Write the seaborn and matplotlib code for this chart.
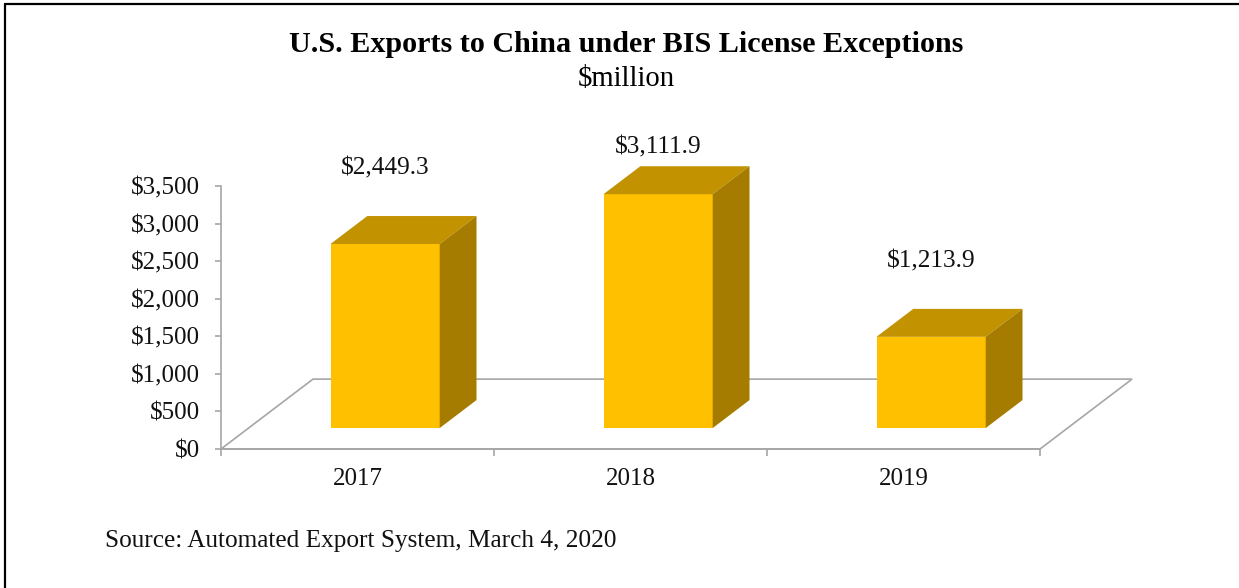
import matplotlib
matplotlib.use("Agg")
import matplotlib.pyplot as plt
import seaborn as sns
from matplotlib.lines import Line2D
from matplotlib.patches import Polygon
from matplotlib.ticker import FixedLocator, FuncFormatter

# data
YEARS = ["2017", "2018", "2019"]
EXPORTS = [2449.3, 3111.9, 1213.9]
LABELS = ["$2,449.3", "$3,111.9", "$1,213.9"]

FRONT = "#FFC000"
TOP = "#C29200"
SIDE = "#A57C00"
GRID = "#A6A6A6"

# depth of the 3d floor in data units (x: categories, y: dollars)
DX, DY = 0.337, 930.0
BAR_FRONT, BAR_BACK = 0.3, 0.7

sns.set_theme(style="white")
plt.rcParams["font.family"] = ["Liberation Serif", "DejaVu Serif"]

fig = plt.figure(figsize=(12.39, 5.88), dpi=100)
ax = fig.add_axes([0.17837, 0.23639, 0.66102, 0.44728])

sns.barplot(x=YEARS, y=EXPORTS, width=0.4, color=FRONT, saturation=1,
            linewidth=0, ax=ax, zorder=3)

ax.set_xlim(-0.5, 2.5)
ax.set_ylim(0, 3500)

# floor of the 3d plot
floor = Polygon([(-0.5, 0), (2.5, 0), (2.5 + DX, DY), (-0.5 + DX, DY)],
                closed=True, fill=False, edgecolor=GRID, linewidth=1.2,
                clip_on=False, zorder=1)
ax.add_patch(floor)

# extrude bars into boxes
ddx = (BAR_BACK - BAR_FRONT) * DX
ddy = (BAR_BACK - BAR_FRONT) * DY
for patch, lab in zip(ax.patches[:3], LABELS):
    x0 = patch.get_x() + BAR_FRONT * DX
    y0 = BAR_FRONT * DY
    w = patch.get_width()
    h = patch.get_height()
    patch.set_x(x0)
    patch.set_y(y0)
    patch.set_clip_on(False)
    top = Polygon([(x0, y0 + h), (x0 + w, y0 + h), (x0 + w + ddx, y0 + h + ddy),
                   (x0 + ddx, y0 + h + ddy)], closed=True, facecolor=TOP,
                  edgecolor="none", clip_on=False, zorder=3)
    side = Polygon([(x0 + w, y0), (x0 + w + ddx, y0 + ddy), (x0 + w + ddx, y0 + h + ddy),
                    (x0 + w, y0 + h)], closed=True, facecolor=SIDE,
                   edgecolor="none", clip_on=False, zorder=3)
    ax.add_patch(top)
    ax.add_patch(side)
    ax.text(x0 + w / 2, min(h + 1280, 4010), lab, ha="center", va="center",
            fontsize=18.3, color="#111111", clip_on=False)

# axes styling
for s in ["top", "right"]:
    ax.spines[s].set_visible(False)
ax.spines["left"].set_color(GRID)
ax.spines["bottom"].set_color(GRID)
ax.spines["left"].set_linewidth(1.2)
ax.spines["bottom"].set_linewidth(1.2)

ax.set_yticks(range(0, 3501, 500))
ax.yaxis.set_major_formatter(FuncFormatter(lambda v, _: f"${v:,.0f}"))
ax.tick_params(axis="y", which="major", left=True, length=4, width=1.2,
               color=GRID, pad=11, labelsize=18, labelcolor="#111111")
ax.xaxis.set_minor_locator(FixedLocator([-0.5, 0.5, 1.5, 2.5]))
ax.tick_params(axis="x", which="minor", bottom=True, length=5, width=1.2, color=GRID)
ax.tick_params(axis="x", which="major", bottom=False, length=0, pad=14,
               labelsize=18, labelcolor="#111111")
ax.set_xlabel("")
ax.set_ylabel("")
ax.grid(False)
ax.patch.set_alpha(0)

fig.text(0.5052, 0.9235, "U.S. Exports to China under BIS License Exceptions",
         ha="center", va="center", fontsize=21.7, fontweight="bold", color="black")
fig.text(0.5052, 0.866, "$million", ha="center", va="center", fontsize=20.6, color="black")
fig.text(0.0847, 0.0799, "Source: Automated Export System, March 4, 2020",
         ha="left", va="center", fontsize=18.2, color="#111111")

# frame lines at top and left
fig.add_artist(Line2D([5 / 1239, 1], [1 - 4 / 588, 1 - 4 / 588], color="black", linewidth=1.6))
fig.add_artist(Line2D([5 / 1239, 5 / 1239], [0, 1 - 4 / 588], color="black", linewidth=1.6))

fig.savefig("out.png", dpi=100)
